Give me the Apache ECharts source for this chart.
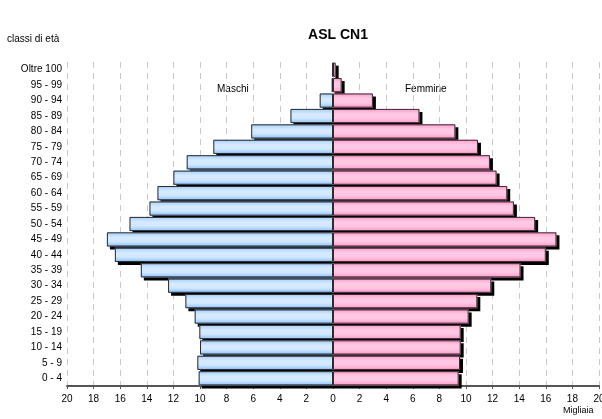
<!DOCTYPE html>
<html>
<head>
<meta charset="utf-8">
<script src="https://cdn.jsdelivr.net/npm/echarts@6/dist/echarts.min.js"></script>
<style>html,body{margin:0;padding:0;background:#fff}#c{width:602px;height:419px}</style>
</head>
<body>
<div id="c"></div>
<script>
var ageClasses = ['Oltre 100','95 - 99','90 - 94','85 - 89','80 - 84','75 - 79','70 - 74','65 - 69','60 - 64','55 - 59','50 - 54','45 - 49','40 - 44','35 - 39','30 - 34','25 - 29','20 - 24','15 - 19','10 - 14','5 - 9','0 - 4'];
var maschi  = [0.05, 0.1, 1.0, 3.2, 6.15, 9.0, 11.0, 12.0, 13.2, 13.8, 15.3, 17.0, 16.4, 14.45, 12.4, 11.1, 10.4, 10.05, 10.0, 10.2, 10.1];
var femmine = [0.2, 0.65, 3.0, 6.5, 9.2, 10.9, 11.8, 12.3, 13.1, 13.6, 15.2, 16.8, 16.0, 14.1, 11.9, 10.85, 10.2, 9.6, 9.6, 9.55, 9.45];
var xTicks = {min: -20, max: 20, interval: 2};

var FONT = 'Liberation Sans';
var chart = echarts.init(document.getElementById('c'), null, {renderer: 'canvas'});

var maleGrad = new echarts.graphic.LinearGradient(0, 0, 0, 1, [
  {offset: 0, color: '#a4cfff'},
  {offset: 0.35, color: '#d6eaff'},
  {offset: 0.65, color: '#d2e8ff'},
  {offset: 1, color: '#8cc1ff'}
]);
var femaleGrad = new echarts.graphic.LinearGradient(0, 0, 0, 1, [
  {offset: 0, color: '#ff9dce'},
  {offset: 0.35, color: '#ffc9e4'},
  {offset: 0.65, color: '#ffc6e2'},
  {offset: 1, color: '#ff97cb'}
]);
var maleNeg = maschi.map(function (v) { return -v; });

function fillSeries(name, data, grad) {
  return {
    name: name, type: 'bar', barWidth: '92%', barGap: '-100%', data: data,
    itemStyle: {color: grad, borderWidth: 0,
      shadowColor: '#000', shadowOffsetX: 3, shadowOffsetY: 3, shadowBlur: 0}
  };
}
function borderSeries(name, data, col) {
  return {
    name: name, type: 'bar', barWidth: '92%', barGap: '-100%', data: data, silent: true,
    itemStyle: {color: 'rgba(0,0,0,0)', borderColor: col, borderWidth: 1}
  };
}

chart.setOption({
  animation: false,
  textStyle: {fontFamily: FONT},
  title: {
    text: 'ASL CN1', left: 333, top: 23, textAlign: 'center',
    textStyle: {fontFamily: FONT, fontSize: 14, fontWeight: 'bold', color: '#000'}
  },
  graphic: [
    {type: 'text', left: 7, top: 34, style: {text: 'classi di età', font: '10px "Liberation Sans"', fill: '#000'}},
    {type: 'text', left: 217, top: 84, style: {text: 'Maschi', font: '10px "Liberation Sans"', fill: '#000'}},
    {type: 'text', left: 405, top: 84, style: {text: 'Femmine', font: '10px "Liberation Sans"', fill: '#000'}},
    {type: 'text', left: 563, top: 406, style: {text: 'Migliaia', font: '9px "Liberation Sans"', fill: '#000'}}
  ],
  grid: {left: 67, right: 3, top: 62, bottom: 33, containLabel: false, outerBoundsMode: 'none'},
  xAxis: {
    type: 'value', min: xTicks.min, max: xTicks.max, interval: xTicks.interval,
    axisLine: {show: true, onZero: false, lineStyle: {color: '#555', width: 2}},
    axisTick: {show: true, length: 3, lineStyle: {color: '#555'}},
    axisLabel: {color: '#000', fontSize: 10, fontFamily: FONT, margin: 8,
      formatter: function (v) { return Math.abs(v); }},
    splitLine: {show: true, lineStyle: {color: '#c8c8c8', type: [6, 5], width: 1}}
  },
  yAxis: {
    type: 'category', data: ageClasses, inverse: true,
    axisLine: {show: false}, axisTick: {show: false},
    axisLabel: {color: '#000', fontSize: 10, fontFamily: FONT, margin: 5}
  },
  series: [
    fillSeries('Maschi', maleNeg, maleGrad),
    fillSeries('Femmine', femmine, femaleGrad),
    borderSeries('Maschi bordo', maleNeg, '#2a2a2a'),
    borderSeries('Femmine bordo', femmine, '#3a2a30')
  ]
});
</script>
</body>
</html>
